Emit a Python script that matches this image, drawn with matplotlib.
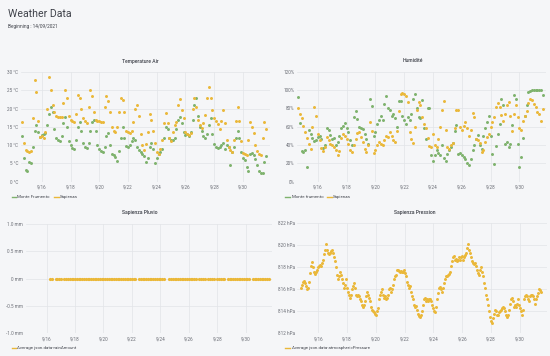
"""Grafana-style 'Weather Data' dashboard: four scatter panels."""

from datetime import datetime, timedelta

import matplotlib

matplotlib.use("Agg")
import matplotlib.pyplot as plt
import numpy as np

plt.rcParams["font.family"] = ["Roboto", "DejaVu Sans"]

# ---- data (3-hourly samples from 2021-09-14 15:00) -------------------------
SAMPLE_START = datetime(2021, 9, 14, 15, 0)
SAMPLE_STEP_H = 3

TEMP_SAPIENZA = [
    16.3, 10.5, 8.8,
    8.5, 8.2, 8.5, 17.3, 27.8, 24.5, 16.5, 12.2,
    12.5, 12.0, 13.5, 20.0, 28.7, 25.0, 21.0, 19.0,
    18.0, 17.8, 17.8, 17.8, 21.5, 25.2, 22.8, 18.0,
    16.8, 16.5, 16.3, 18.5, 23.7, 22.8, 20.0, 17.5,
    16.5, 16.0, 20.5, 25.0, 23.5, 19.0, 16.8, 16.5,
    16.5, 16.3, 16.2, 20.5, 23.3, 22.0, 19.0, 15.0,
    14.0, 13.5, 15.0, 19.0, 22.8, 22.3, 19.0, 14.0,
    13.5, 13.2, 13.8, 16.4, 20.0, 21.0, 18.0, 13.0,
    10.0, 8.7, 10.3, 13.5, 18.5, 17.0, 14.0, 10.5,
    8.2, 7.5, 9.0, 11.5, 16.0, 18.7, 16.0, 12.0,
    11.0, 13.5, 15.5, 16.4, 21.0, 22.5, 19.6, 17.5,
    13.5, 13.0, 12.8, 13.2, 20.0, 23.0, 20.5, 17.0,
    15.5, 14.8, 16.0, 18.2, 22.8, 26.0, 23.0, 19.5,
    17.3, 16.5, 15.8, 14.5, 16.5, 19.5, 16.0, 11.5,
    9.6, 8.7, 8.2, 11.5, 16.5, 20.5, 16.5, 11.0,
    7.8, 7.5, 7.3, 11.5, 16.4, 15.0, 13.2, 10.0,
    8.5, 7.7, 7.3, 12.0, 16.4, 14.5,
]
TEMP_FRUMENTO = [
    12.5, 6.5, 3.2,
    3.0, 5.5, 5.0, 9.5, 14.0, 15.5, 13.5, 12.3,
    12.8, 13.0, 13.2, 15.5, 18.5, 20.5, 19.0, 14.5,
    12.0, 11.5, 11.0, 12.5, 16.0, 17.8, 15.0, 11.2,
    10.0, 9.3, 9.0, 11.5, 15.0, 16.2, 14.0, 10.5,
    9.6, 9.3, 10.5, 14.0, 16.4, 16.8, 14.0, 10.0,
    9.0, 8.5, 8.2, 9.5, 12.5, 13.2, 10.0, 7.7,
    7.3, 6.8, 5.7, 8.5, 12.0, 15.0, 12.0, 9.8,
    9.5, 10.0, 11.0, 11.9, 11.5, 9.6, 8.8, 8.2,
    7.5, 7.0, 5.5, 6.5, 9.5, 10.5, 9.0, 5.0,
    6.5, 7.5, 8.0, 9.0, 12.0, 15.0, 14.5, 12.0,
    11.5, 11.3, 12.0, 14.5, 17.0, 17.8, 16.0, 13.5,
    12.8, 13.0, 12.6, 13.5, 17.0, 21.0, 22.8, 18.0,
    15.0, 14.0, 12.5, 12.0, 13.0, 15.5, 17.5, 13.0,
    10.3, 9.6, 9.2, 9.6, 10.0, 10.5, 9.0, 10.0,
    9.4, 4.6, 8.2, 9.6, 12.0, 14.0, 12.0, 8.0,
    6.5, 5.8, 4.0, 2.8, 7.5, 7.8, 7.3, 6.2,
    4.5, 2.8, 2.5, 2.3, 5.5, 7.0,
]
HUM_FRUMENTO = [
    92, 64, 33, 32, 34, 16, 56, 52, 48, 44, 45, 49, 50, 47, 37, 40,
    58, 56, 51, 47, 48, 40, 43, 50, 58, 61, 64, 58, 54, 45, 40, 70,
    77, 68, 60, 58, 57, 52, 47, 41, 90, 82, 50, 54, 63, 67, 71, 67,
    85, 93, 80, 78, 71, 74, 69, 60, 88, 88, 71, 67, 63, 70, 67, 74,
    90, 96, 80, 70, 69, 89, 58, 47, 80, 80, 29, 23, 29, 34, 31, 29,
    40, 26, 22, 30, 34, 38, 42, 55, 62, 30, 31, 29, 27, 25, 20, 18,
    25, 35, 40, 47, 51, 40, 36, 50, 59, 65, 72, 50, 30, 19, 39, 52,
    63, 90, 84, 41, 43, 38, 41, 62, 94, 90, 41, 16, 27, 48, 72, 84,
    98, 99, 100, 100, 100, 100, 100, 100, 94,
]
HUM_SAPIENZA = [
    80, 74, 69, 61, 54, 48, 41, 36, 60, 81, 72, 52, 45, 37, 33, 38,
    49, 45, 41, 40, 38, 34, 29, 33, 48, 52, 50, 47, 41, 34, 32, 40,
    47, 53, 54, 49, 43, 36, 32, 40, 65, 55, 31, 34, 40, 43, 41, 40,
    45, 50, 49, 54, 50, 45, 43, 55, 77, 96, 97, 96, 93, 87, 54, 47,
    42, 60, 78, 87, 84, 70, 63, 58, 48, 39, 38, 52, 40, 38, 47, 60,
    78, 88, 56, 38, 36, 40, 42, 58, 78, 78, 60, 56, 61, 65, 59, 50,
    56, 75, 70, 47, 45, 42, 32, 35, 43, 49, 52, 60, 65, 70, 81, 86,
    81, 73, 66, 74, 84, 87, 72, 55, 74, 83, 70, 58, 56, 66, 71, 77,
    86, 90, 89, 85, 81, 76, 74, 66, 79,
]
# 1 = a rain reading (always 0 mm) exists in that 3-hour slot
RAIN_PRESENT = (
    "0000000000000110111101111111111111111111111111111111111111111101"
    "1111111111111100111111111111111101111011110111110111111111111101"
    "111111111"
)
RAIN_VALUE_MM = 0.0

# pressure readings, evenly spaced between these two times
PRESSURE_START = datetime(2021, 9, 14, 19, 0)
PRESSURE_END = datetime(2021, 10, 1, 12, 0)
PRESSURE = [
    816.1, 816.4, 816.7, 816.8, 816.6, 816.3, 816.0, 816.1, 816.7, 817.5,
    818.1, 818.5, 818.0, 817.6, 817.4, 817.6, 817.8, 818.0, 818.1, 818.2,
    818.1, 818.4, 818.7, 819.2, 819.6, 820.1, 819.6, 819.3, 819.2, 819.3,
    819.5, 819.6, 819.3, 818.9, 818.6, 818.0, 817.3, 816.9, 817.2, 817.6,
    817.3, 816.9, 816.6, 816.1, 816.4, 816.9, 816.1, 815.8, 815.5, 815.2,
    815.5, 816.0, 816.3, 816.6, 816.1, 815.5, 815.4, 815.5, 815.4, 815.1,
    814.9, 814.6, 814.4, 814.6, 814.9, 815.4, 815.8, 815.5, 815.2, 814.9,
    814.4, 814.1, 814.0, 813.9, 813.8, 813.7, 814.0, 814.3, 815.1, 815.5,
    815.8, 816.0, 815.5, 815.2, 815.4, 815.1, 815.2, 815.5, 816.0, 816.1,
    815.8, 816.0, 816.4, 816.9, 817.2, 817.3, 817.8, 817.8, 817.7, 817.6,
    817.7, 817.6, 817.6, 817.8, 817.5, 817.2, 816.7, 816.4, 816.1, 816.3,
    815.8, 815.4, 815.1, 814.6, 814.4, 814.5, 814.1, 813.8, 813.6, 813.5,
    813.7, 814.0, 814.6, 815.1, 815.2, 814.9, 815.1, 814.9, 815.1, 815.1,
    814.9, 814.6, 814.3, 814.0, 813.9, 814.4, 815.1, 815.7, 816.1, 816.2,
    816.0, 815.8, 816.1, 816.6, 816.9, 817.2, 817.2, 817.3, 817.4, 817.6,
    818.1, 818.6, 818.9, 819.0, 818.7, 818.8, 818.6, 818.7, 818.9, 818.7,
    818.9, 819.0, 818.7, 818.9, 819.1, 819.3, 819.8, 820.1, 819.6, 819.3,
    818.9, 818.6, 818.4, 818.3, 818.4, 818.1, 817.8, 817.5, 817.3, 817.8,
    818.0, 817.6, 817.2, 816.6, 816.1, 815.5, 815.1, 814.6, 814.0, 813.5,
    813.1, 812.9, 813.4, 813.8, 814.1, 814.0, 813.7, 813.7, 813.9, 814.0,
    814.1, 814.3, 814.4, 814.3, 814.0, 813.7, 813.5, 813.7, 814.1, 814.7,
    815.1, 815.2, 814.9, 814.4, 814.6, 814.4, 814.7, 815.1, 814.6, 814.3,
    814.0, 813.7, 814.1, 815.1, 815.4, 815.5, 815.4, 815.1, 814.9, 815.4,
    815.5, 815.5, 815.4, 815.1, 814.7, 815.1, 815.4, 815.7, 816.0, 815.9,
    815.8,
]

TICK_DAYS = [16, 18, 20, 22, 24, 26, 28, 30]
X_START = datetime(2021, 9, 14, 13, 12)
X_END = datetime(2021, 10, 1, 20, 24)

GREEN = "#7EB26D"
YELLOW = "#EAB839"
BG = "#f5f6f8"
GRID = "#e2e4e8"
TEXT = "#3f424a"
TICK = "#6a6d75"
MS = 4.6

W, H = 550, 356


def px_axes(fig, left, top, right, bottom):
    return fig.add_axes([left / W, 1 - bottom / H, (right - left) / W, (bottom - top) / H])


def style(ax, yticks, ylabels):
    ax.set_facecolor(BG)
    for s in ax.spines.values():
        s.set_visible(False)
    ax.set_xlim(X_START, X_END)
    ticks = [datetime(2021, 9, d) for d in TICK_DAYS]
    ax.set_xticks(ticks)
    ax.set_xticklabels([f"9/{d}" for d in TICK_DAYS])
    ax.set_yticks(yticks)
    ax.set_yticklabels(ylabels)
    ax.set_ylim(yticks[0], yticks[-1])
    ax.tick_params(length=0, labelsize=3.3, colors=TICK, pad=2.0)
    ax.grid(True, color=GRID, lw=0.5)
    ax.set_axisbelow(True)


def legend(fig, y, items):
    for hx, tx, label, color in items:
        fig.add_artist(plt.Line2D([hx / W, (hx + 4.5) / W], [1 - y / H] * 2,
                                  color=color, lw=1.0, transform=fig.transFigure))
        fig.text(tx / W, 1 - y / H, label, fontsize=3.2, color=TEXT, va="center")


def title(fig, x, y, text):
    fig.text(x / W, 1 - y / H, text, fontsize=3.6, color=TEXT,
             ha="center", va="center", fontweight="medium")


fig = plt.figure(figsize=(W / 100, H / 100), dpi=100, facecolor=BG)

times = [SAMPLE_START + timedelta(hours=SAMPLE_STEP_H * i) for i in range(len(TEMP_SAPIENZA))]

fig.text(8 / W, 1 - 14 / H, "Weather Data", fontsize=7.6, color=TEXT, va="center")
fig.text(8 / W, 1 - 26.5 / H, "Beginning : 14/09/2021", fontsize=3.4, color=TEXT, va="center")

# Temperature Air
ax = px_axes(fig, 21, 72, 269.5, 181.7)
style(ax, [0, 5, 10, 15, 20, 25, 30], [f"{v} °C" for v in range(0, 31, 5)])
ax.scatter(times, TEMP_FRUMENTO, s=MS, color=GREEN, lw=0, zorder=3)
ax.scatter(times, TEMP_SAPIENZA, s=MS, color=YELLOW, lw=0, zorder=3)
title(fig, 140, 61, "Temperature Air")
legend(fig, 196.7, [(11.5, 17.5, "Monte Frumento", GREEN), (54, 60, "Sapienza", YELLOW)])

# Humidité
ax = px_axes(fig, 297, 71.5, 546, 181.7)
style(ax, list(range(0, 121, 20)), [f"{v}%" for v in range(0, 121, 20)])
ax.scatter(times, HUM_FRUMENTO, s=MS, color=GREEN, lw=0, zorder=3)
ax.scatter(times, HUM_SAPIENZA, s=MS, color=YELLOW, lw=0, zorder=3)
title(fig, 413, 61, "Humidité")
legend(fig, 196.7, [(285, 291.5, "Monte frumento", GREEN), (327, 333, "Sapienza", YELLOW)])

# Sapienza Pluvio
ax = px_axes(fig, 26, 224, 272, 333.3)
style(ax, [-1.0, -0.5, 0.0, 0.5, 1.0], ["-1.0 mm", "-0.5 mm", "0 mm", "0.5 mm", "1.0 mm"])
mask = np.array([c == "1" for c in RAIN_PRESENT])
rain_t = [t for t, m in zip(times, mask) if m]
ax.scatter(rain_t, [RAIN_VALUE_MM] * len(rain_t), s=MS + 0.6, color=YELLOW, lw=0, zorder=3)
title(fig, 140, 212.3, "Sapienza Pluvio")
legend(fig, 348, [(11.5, 17.5, "Average json.data-rainAmount", YELLOW)])

# Sapienza Pression
ax = px_axes(fig, 297.4, 223.3, 546.5, 333.3)
style(ax, list(range(812, 823, 2)), [f"{v} hPa" for v in range(812, 823, 2)])
n = len(PRESSURE)
span = (PRESSURE_END - PRESSURE_START) / (n - 1)
p_times = [PRESSURE_START + span * i for i in range(n)]
ax.scatter(p_times, PRESSURE, s=MS, color=YELLOW, lw=0, zorder=3)
title(fig, 415, 212.3, "Sapienza Pression")
legend(fig, 348, [(285, 291.5, "Average json.data-atmosphericPressure", YELLOW)])

fig.savefig("out.png", dpi=100, facecolor=BG)
